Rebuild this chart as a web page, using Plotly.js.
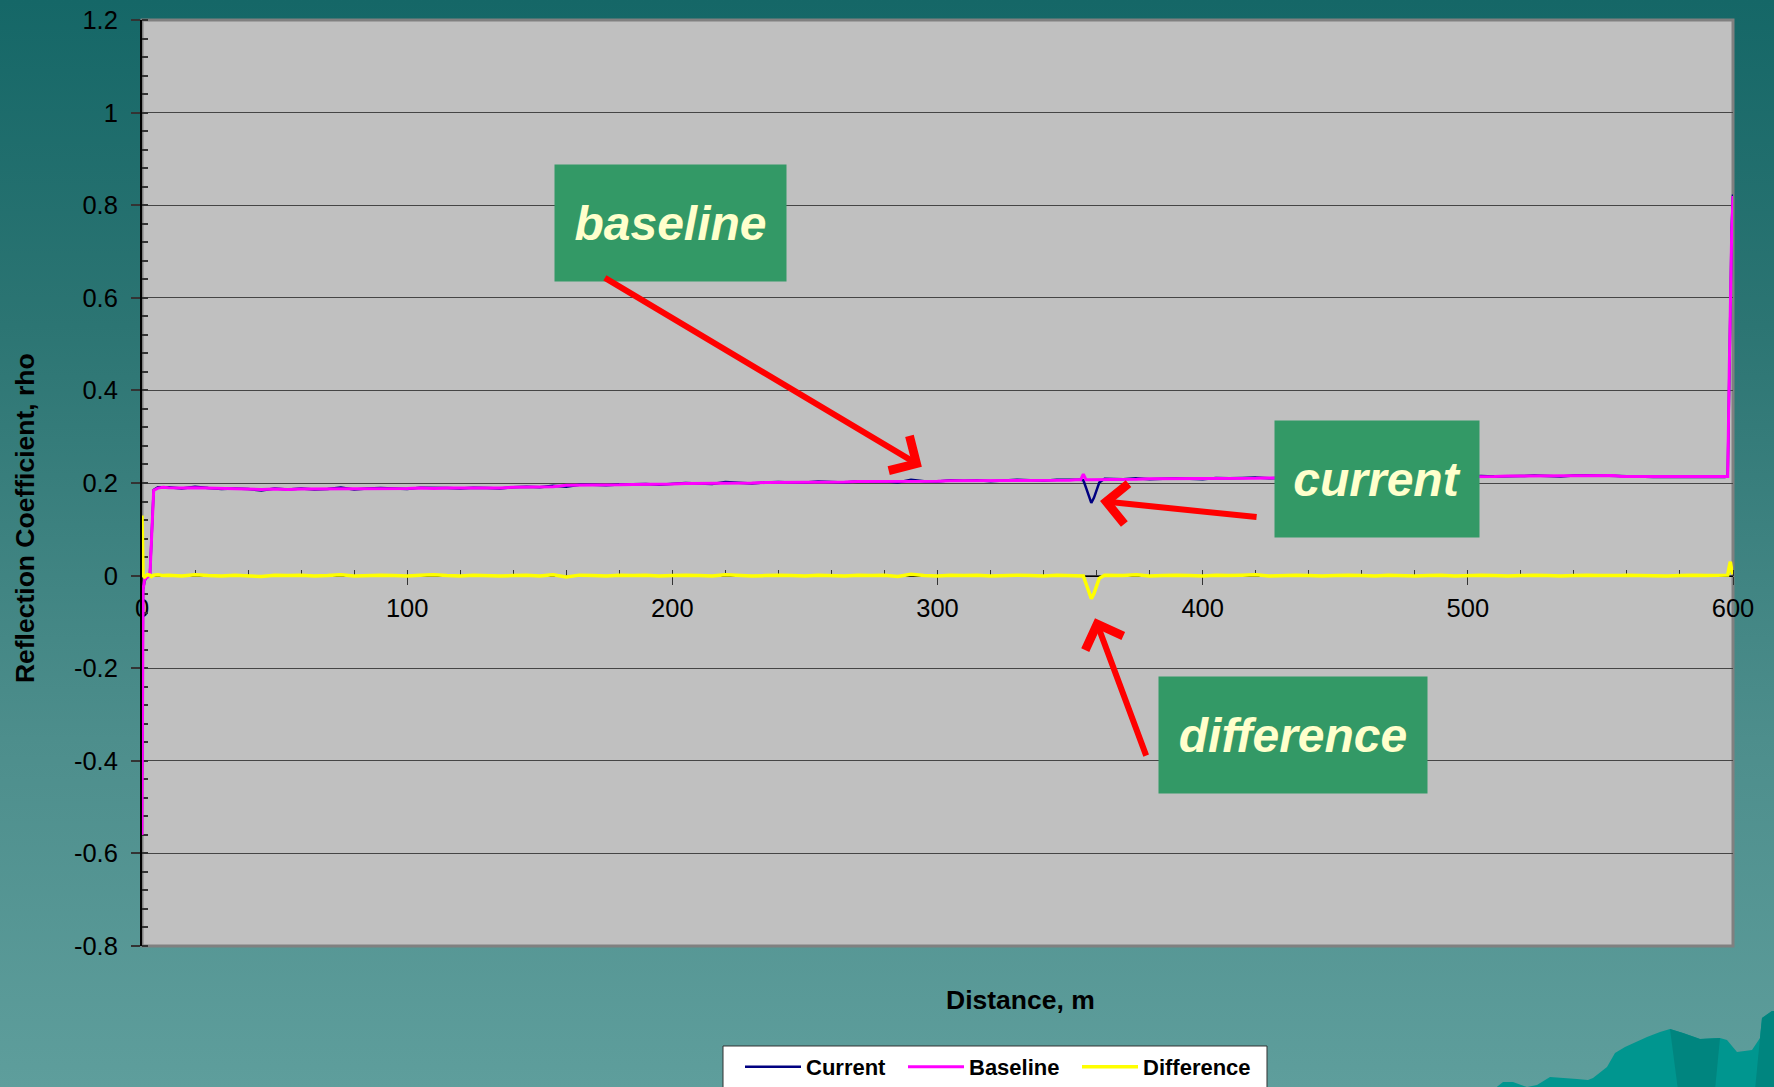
<!DOCTYPE html>
<html><head><meta charset="utf-8">
<script src="https://cdn.plot.ly/plotly-3.0.1.min.js"></script>
<style>
html,body{margin:0;padding:0;width:1774px;height:1087px;overflow:hidden;background:linear-gradient(180deg,#156767 0%,#2c7573 30%,#4d8e8c 68%,#5e9e9c 100%);}
#chart{width:1774px;height:1087px;}
</style></head><body><div id="chart"></div>
<script>
const distance = [0, 0.4, 1, 2, 3, 3.6, 4.4, 6, 8,
 10, 15, 20, 25, 30, 35, 40, 45, 50, 55, 60, 65, 70, 75, 80, 85, 90, 95, 100,
 105, 110, 115, 120, 125, 130, 135, 140, 145, 150, 155, 160, 165, 170, 175, 180, 185, 190, 195, 200,
 205, 210, 215, 220, 225, 230, 235, 240, 245, 250, 255, 260, 265, 270, 275, 280, 285, 290, 295, 300,
 305, 310, 315, 320, 325, 330, 335, 340, 345, 350,
 352, 354, 355, 356, 357, 358, 359, 360, 361, 363,
 365, 370, 375, 380, 385, 390, 395, 400, 405, 410, 415, 420, 425, 430, 435, 440, 445, 450, 455, 460,
 465, 470, 475, 480, 485, 490, 495, 500, 505, 510, 515, 520, 525, 530, 535, 540, 545, 550, 555,
 558, 560, 565, 570, 575, 580, 585, 590, 595,
 597, 598, 598.6, 599, 599.5, 600];

const current = [-0.43, -0.03, -0.011, -0.002, 0.003, 0.088, 0.185, 0.191, 0.191,
 0.191, 0.188, 0.192, 0.189, 0.187, 0.188, 0.187, 0.184, 0.188, 0.186, 0.188, 0.186, 0.187, 0.190, 0.186, 0.188, 0.189, 0.188, 0.187,
 0.190, 0.190, 0.189, 0.188, 0.190, 0.189, 0.188, 0.191, 0.192, 0.191, 0.194, 0.192, 0.196, 0.196, 0.195, 0.197, 0.197, 0.198, 0.196, 0.198,
 0.200, 0.199, 0.198, 0.202, 0.200, 0.199, 0.201, 0.202, 0.201, 0.201, 0.203, 0.202, 0.201, 0.204, 0.203, 0.204, 0.201, 0.207, 0.204, 0.203,
 0.206, 0.205, 0.206, 0.204, 0.205, 0.207, 0.206, 0.205, 0.207, 0.206,
 0.207, 0.207, 0.206, 0.190, 0.174, 0.157, 0.168, 0.185, 0.201, 0.209,
 0.209, 0.208, 0.210, 0.208, 0.209, 0.210, 0.209, 0.208, 0.211, 0.210, 0.211, 0.212, 0.210, 0.211, 0.212, 0.211, 0.210, 0.212, 0.213, 0.212,
 0.211, 0.213, 0.213, 0.212, 0.213, 0.214, 0.212, 0.214, 0.215, 0.214, 0.214, 0.215, 0.216, 0.215, 0.214, 0.216, 0.217, 0.216, 0.215,
 0.214, 0.215, 0.214, 0.213, 0.213, 0.213, 0.214, 0.213, 0.213,
 0.213, 0.215, 0.47, 0.65, 0.752, 0.823];

const baseline = [-0.56, -0.03, -0.008, -0.004, 0.002, 0.09, 0.184, 0.189, 0.191,
 0.190, 0.189, 0.190, 0.189, 0.188, 0.187, 0.187, 0.186, 0.187, 0.186, 0.187, 0.187, 0.187, 0.188, 0.187, 0.188, 0.188, 0.188, 0.188,
 0.189, 0.188, 0.189, 0.189, 0.189, 0.189, 0.189, 0.191, 0.191, 0.192, 0.192, 0.195, 0.195, 0.196, 0.196, 0.196, 0.197, 0.197, 0.197, 0.198,
 0.199, 0.199, 0.199, 0.200, 0.200, 0.200, 0.201, 0.201, 0.201, 0.202, 0.202, 0.202, 0.202, 0.203, 0.203, 0.203, 0.203, 0.204, 0.204, 0.204,
 0.205, 0.205, 0.205, 0.205, 0.205, 0.206, 0.206, 0.206, 0.206, 0.206,
 0.207, 0.207, 0.219, 0.207, 0.207, 0.207, 0.207, 0.207, 0.208, 0.208,
 0.208, 0.208, 0.208, 0.209, 0.209, 0.209, 0.209, 0.209, 0.210, 0.210, 0.210, 0.210, 0.211, 0.211, 0.211, 0.211, 0.211, 0.212, 0.212, 0.212,
 0.212, 0.212, 0.213, 0.213, 0.213, 0.213, 0.213, 0.214, 0.214, 0.214, 0.215, 0.215, 0.215, 0.215, 0.215, 0.216, 0.216, 0.216, 0.216,
 0.214, 0.214, 0.214, 0.213, 0.214, 0.213, 0.213, 0.213, 0.213,
 0.213, 0.214, 0.45, 0.62, 0.74, 0.82];

const difference = [0.13, 0.000, -0.003, 0.002, 0.001, -0.002, 0.001, 0.002, 0.000,
 0.001, -0.001, 0.002, 0.000, -0.001, 0.001, 0.000, -0.002, 0.001, 0.000, 0.001, -0.001, 0.000, 0.002, -0.001, 0.000, 0.001, 0.000, -0.001,
 0.001, 0.002, 0.000, -0.001, 0.001, 0.000, -0.001, 0.000, 0.001, -0.001, 0.002, -0.003, 0.001, 0.000, -0.001, 0.001, 0.000, 0.001, -0.001, 0.000,
 0.001, 0.000, -0.001, 0.002, 0.000, -0.001, 0.000, 0.001, 0.000, -0.001, 0.001, 0.000, -0.001, 0.001, 0.000, 0.001, -0.002, 0.003, 0.000, -0.001,
 0.001, 0.000, 0.001, -0.001, 0.000, 0.001, 0.000, -0.001, 0.001, 0.000,
 0.000, 0.000, -0.001, -0.017, -0.033, -0.050, -0.039, -0.022, -0.006, 0.001,
 0.001, 0.000, 0.002, -0.001, 0.000, 0.001, 0.000, -0.001, 0.001, 0.000, 0.001, 0.002, -0.001, 0.000, 0.001, 0.000, -0.001, 0.000, 0.001, 0.000,
 -0.001, 0.001, 0.000, -0.001, 0.000, 0.001, -0.001, 0.000, 0.001, 0.000, -0.001, 0.000, 0.001, 0.000, -0.001, 0.000, 0.001, 0.000, -0.001,
 0.000, 0.001, 0.000, 0.000, -0.001, 0.000, 0.001, 0.000, 0.000,
 0.000, 0.001, 0.02, 0.03, 0.012, 0.003];

const seriesNames = ["Current", "Baseline", "Difference"];
const yTickVals = [-0.8, -0.6, -0.4, -0.2, 0, 0.2, 0.4, 0.6, 0.8, 1, 1.2];
const yTickText = ["-0.8", "-0.6", "-0.4", "-0.2", "0", "0.2", "0.4", "0.6", "0.8", "1", "1.2"];
const xTickVals = [0, 100, 200, 300, 400, 500, 600];
const xTickText = ["0", "100", "200", "300", "400", "500", "600"];
const calloutLabels = ["baseline", "current", "difference"];

const FONT = "Liberation Sans, Arial, sans-serif";

const traces = [
  {x: distance, y: current, name: seriesNames[0], type: "scatter", mode: "lines",
   line: {color: "#000080", width: 2.5}, legend: "legend"},
  {x: distance, y: baseline, name: seriesNames[1], type: "scatter", mode: "lines",
   line: {color: "#ff00ff", width: 3}, legend: "legend"},
  {x: distance, y: difference, name: seriesNames[2], type: "scatter", mode: "lines",
   line: {color: "#ffff00", width: 3.5}, legend: "legend2"}
];

// plot area in page pixels: left 142, right 1733, top 20, bottom 946
const L = 142, R = 1733, T = 20, B = 946;
function px2paper(pts) {
  return pts.map(p => [(p[0] - L) / (R - L), (B - p[1]) / (B - T)]);
}
function pathOf(pts) {
  const q = px2paper(pts);
  return "M" + q.map(p => p[0].toFixed(5) + "," + p[1].toFixed(5)).join(" L") + " Z";
}
const mountain = [[1493,1090],[1503,1082],[1513,1082],[1527,1087],[1537,1085],[1550,1077],[1577,1079],[1588,1080],[1593,1078],[1607,1067],[1615,1053],[1625,1047],[1647,1037],[1660,1032],[1670,1029],[1683,1033],[1700,1039],[1720,1038],[1727,1040],[1737,1052],[1752,1050],[1760,1038],[1762,1018],[1772,1011],[1776,1011],[1776,1090]];
const facet = [[1670,1029],[1683,1033],[1700,1039],[1720,1038],[1715,1090],[1678,1090]];
const facet2 = [[1762,1018],[1772,1011],[1776,1011],[1776,1090],[1755,1090],[1760,1038]];
const legendBox = [[723,1046],[1267,1046],[1267,1095],[723,1095]];

const boxStyle = {xref: "x", yref: "y", showarrow: false, bgcolor: "#339966",
  borderpad: 0, xanchor: "center", yanchor: "middle",
  font: {family: FONT, size: 48, color: "#ffffcc"}};
const arrowStyle = {xref: "x", yref: "y", axref: "x", ayref: "y", text: "",
  showarrow: true, arrowhead: 4, arrowsize: 1.3, arrowwidth: 6, arrowcolor: "#ff0000", standoff: 0};

const annotations = [
  Object.assign({}, boxStyle, {x: 199.4, y: 0.761, width: 231, height: 116, text: "<b><i>" + calloutLabels[0] + "</i></b>"}),
  Object.assign({}, boxStyle, {x: 465.8, y: 0.208, width: 204, height: 116, text: "<b><i>" + calloutLabels[1] + "</i></b>"}),
  Object.assign({}, boxStyle, {x: 434.1, y: -0.345, width: 268, height: 116, text: "<b><i>" + calloutLabels[2] + "</i></b>"}),
  Object.assign({}, arrowStyle, {x: 294.1, y: 0.235, ax: 174.0, ay: 0.645}),
  Object.assign({}, arrowStyle, {x: 361.3, y: 0.161, ax: 420.9, ay: 0.126}),
  Object.assign({}, arrowStyle, {x: 359.4, y: -0.092, ax: 378.9, ay: -0.392}),
  {xref: "paper", yref: "paper", x: 0.552, y: -0.0583, showarrow: false, xanchor: "center", yanchor: "middle",
   text: "<b>Distance, m</b>", font: {family: FONT, size: 26.5, color: "#000000"}},
  {xref: "paper", yref: "paper", x: -0.0736, y: 0.462, showarrow: false, xanchor: "center", yanchor: "middle",
   textangle: -90, text: "<b>Reflection Coefficient, rho</b>", font: {family: FONT, size: 26.5, color: "#000000"}}
];

const legendCommon = {orientation: "h", y: (B - 1046) / (B - T), xanchor: "left", yanchor: "top",
  bgcolor: "rgba(0,0,0,0)", borderwidth: 0,
  font: {family: FONT, size: 22, color: "#000000", weight: "bold"},
  itemwidth: 56, tracegroupgap: 0};

const layout = {
  width: 1774, height: 1087,
  margin: {l: L, r: 1774 - R, t: T, b: 1087 - B, pad: 0, autoexpand: false},
  paper_bgcolor: "rgba(0,0,0,0)",
  plot_bgcolor: "rgba(0,0,0,0)",
  font: {family: FONT, color: "#000000"},
  showlegend: true,
  legend: Object.assign({}, legendCommon, {x: (740 - L) / (R - L), entrywidth: 92, entrywidthmode: "pixels"}),
  legend2: Object.assign({}, legendCommon, {x: (1077 - L) / (R - L)}),
  xaxis: {range: [0, 600], anchor: "free", position: 0.4, layer: "below traces",
    tickmode: "array", tickvals: xTickVals, ticktext: xTickText,
    showline: true, linecolor: "#000000", linewidth: 1,
    ticks: "outside", ticklen: 8, tickcolor: "#333333", tickwidth: 1,
    ticklabelstandoff: 2,
    showgrid: false, zeroline: false,
    tickfont: {family: FONT, size: 25.5, color: "#000000"},
    minor: {ticks: "inside", dtick: 20, tick0: 0, ticklen: 6, tickcolor: "#333333", showgrid: false}},
  yaxis: {range: [-0.8, 1.2], layer: "below traces",
    tickmode: "array", tickvals: yTickVals, ticktext: yTickText,
    showline: true, linecolor: "#000000", linewidth: 2,
    ticks: "outside", ticklen: 9, tickcolor: "#333333", tickwidth: 2,
    ticklabelstandoff: 8,
    showgrid: true, gridcolor: "#454545", gridwidth: 1, zeroline: false,
    tickfont: {family: FONT, size: 25.5, color: "#000000"},
    minor: {ticks: "inside", dtick: 0.04, tick0: 0, ticklen: 6, tickcolor: "#333333", tickwidth: 2, showgrid: false}},
  shapes: [
    {type: "rect", xref: "paper", yref: "paper", x0: 0, x1: 1, y0: 0, y1: 1, layer: "below",
     fillcolor: "#c0c0c0", line: {color: "#808080", width: 3}},
    {type: "path", xref: "paper", yref: "paper", layer: "below", path: pathOf(mountain),
     fillcolor: "#00968f", line: {width: 0}},
    {type: "path", xref: "paper", yref: "paper", layer: "below", path: pathOf(facet),
     fillcolor: "#00857f", line: {width: 0}},
    {type: "path", xref: "paper", yref: "paper", layer: "below", path: pathOf(facet2),
     fillcolor: "#00857f", line: {width: 0}},
    {type: "path", xref: "paper", yref: "paper", layer: "below", path: pathOf(legendBox),
     fillcolor: "#ffffff", line: {color: "#333333", width: 1}}
  ],
  annotations: annotations
};

Plotly.newPlot("chart", traces, layout, {displayModeBar: false, staticPlot: true});
</script></body></html>
